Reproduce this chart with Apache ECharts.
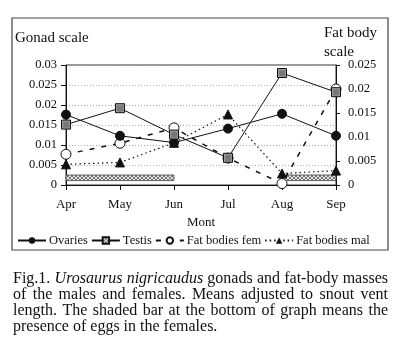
<!DOCTYPE html>
<html>
<head>
<meta charset="utf-8">
<script src="https://cdn.jsdelivr.net/npm/echarts@6/dist/echarts.min.js"></script>
<style>
html,body{margin:0;padding:0;background:#fff;}
#chart{width:406px;height:355px;}
</style>
</head>
<body>
<div id="chart"></div>
<script>
// ---- data ----
const months = ['Apr', 'May', 'Jun', 'Jul', 'Aug', 'Sep'];
const ovaries = [0.0176, 0.0123, 0.0106, 0.0141, 0.0178, 0.0123];   // gonad scale
const testis = [0.0151, 0.0192, 0.0126, 0.0068, 0.0280, 0.0232];    // gonad scale
const fatFem = [0.0064, 0.0087, 0.0119, 0.0056, 0.0003, 0.0200];    // fat body scale
const fatMal = [0.0043, 0.0047, 0.0088, 0.0147, 0.0024, 0.0030];    // fat body scale
const eggPeriods = [['Apr', 'Jun'], ['Aug', 'Sep']];
const eggBand = [0.0011, 0.0025];
const leftAxisMax = 0.03, rightAxisMax = 0.025, tickStep = 0.005;
const captionLines = [
  [['Fig.1. ', false], ['Urosaurus nigricaudus', true], [' gonads and fat-body masses', false]],
  [['of the males and females. Means adjusted to snout vent', false]],
  [['length. The shaded bar at the bottom of graph means the', false]],
  [['presence of eggs in the females.', false]]
];

const SERIF = '"Liberation Serif", "DejaVu Serif", serif';
const INK = '#111';

function hatch(bg, fg) {
  const c = document.createElement('canvas');
  c.width = 4; c.height = 4;
  const g = c.getContext('2d');
  g.fillStyle = bg; g.fillRect(0, 0, 4, 4);
  g.fillStyle = fg;
  // crosshatch: both diagonals
  g.fillRect(0, 0, 1, 1); g.fillRect(1, 1, 1, 1); g.fillRect(2, 2, 1, 1); g.fillRect(3, 3, 1, 1);
  g.fillRect(3, 0, 1, 1); g.fillRect(2, 1, 1, 1); g.fillRect(1, 2, 1, 1); g.fillRect(0, 3, 1, 1);
  return c;
}
const hatchImg = hatch('#e6e6e6', '#777');

// caption words, justified
const measure = document.createElement('canvas').getContext('2d');
function wordsOf(line) {
  const out = [];
  line.forEach(([txt, it]) => {
    txt.split(' ').forEach(w => { if (w.length) out.push({ w, it }); });
  });
  return out;
}
const capX0 = 13, capX1 = 388, capFs = 16;
const capY = [280, 296, 312, 328];
const captionGraphics = [];
captionLines.forEach((line, li) => {
  const words = wordsOf(line);
  const widths = words.map(o => {
    measure.font = (o.it ? 'italic ' : '') + capFs + 'px ' + SERIF;
    return measure.measureText(o.w).width;
  });
  measure.font = capFs + 'px ' + SERIF;
  const spaceW = measure.measureText(' ').width;
  const total = widths.reduce((a, b) => a + b, 0);
  const justify = li < captionLines.length - 1;
  const gap = justify ? (capX1 - capX0 - total) / (words.length - 1) : spaceW;
  let x = capX0;
  words.forEach((o, i) => {
    captionGraphics.push({
      type: 'text', left: x, top: capY[li] - capFs / 2 - 1,
      style: { text: o.w, font: (o.it ? 'italic ' : '') + capFs + 'px ' + SERIF, fill: INK }
    });
    x += widths[i] + gap;
  });
});

const chart = echarts.init(document.getElementById('chart'), null, { renderer: 'canvas' });

const eggData = eggPeriods.map(p => [months.indexOf(p[0]), months.indexOf(p[1]), eggBand[0], eggBand[1]]);

const option = {
  animation: false,
  backgroundColor: '#fff',
  textStyle: { fontFamily: SERIF, color: INK },
  grid: { left: 66, right: 70, top: 65, bottom: 170, show: true, borderColor: '#333', borderWidth: 1, backgroundColor: 'transparent' },
  legend: {
    left: 12, top: 229, itemGap: 3, itemWidth: 28, itemHeight: 8,
    textStyle: { fontFamily: SERIF, fontSize: 12.5, color: INK, padding: [0, 0, 0, -2] },
    data: ['Ovaries', 'Testis', 'Fat bodies fem', 'Fat bodies mal']
  },
  xAxis: {
    type: 'category', data: months, boundaryGap: false,
    name: 'Mont', nameLocation: 'middle', nameGap: 31,
    nameTextStyle: { fontFamily: SERIF, fontSize: 13, color: INK },
    axisLine: { lineStyle: { color: '#111', width: 1 } },
    axisTick: { show: true, length: 5, lineStyle: { color: '#111' } },
    axisLabel: { fontFamily: SERIF, fontSize: 13, color: INK, margin: 13 },
    splitLine: { show: false }
  },
  yAxis: [
    {
      type: 'value', min: 0, max: leftAxisMax, interval: tickStep, position: 'left',
      axisLine: { show: true, lineStyle: { color: '#111' } },
      axisTick: { show: true, length: 5, lineStyle: { color: '#111' } },
      axisLabel: { fontFamily: SERIF, fontSize: 12.5, color: INK, margin: 9 },
      splitLine: { show: true, lineStyle: { color: '#aaa', type: [1, 2], width: 1 } }
    },
    {
      type: 'value', min: 0, max: rightAxisMax, interval: tickStep, position: 'right',
      axisLine: { show: true, lineStyle: { color: '#111' } },
      axisTick: { show: true, length: 4, lineStyle: { color: '#111' } },
      axisLabel: { fontFamily: SERIF, fontSize: 12.5, color: INK, margin: 12 },
      splitLine: { show: false }
    }
  ],
  graphic: [
    { type: 'rect', shape: { x: 12, y: 18, width: 376, height: 232 }, style: { fill: 'none', stroke: '#444', lineWidth: 1.2 }, silent: true },
    { type: 'text', left: 15, top: 31, style: { text: 'Gonad scale', font: '15px ' + SERIF, fill: INK } },
    { type: 'text', left: 324, top: 26, style: { text: 'Fat body', font: '15px ' + SERIF, fill: INK } },
    { type: 'text', left: 324, top: 45, style: { text: 'scale', font: '15px ' + SERIF, fill: INK } }
  ].concat(captionGraphics),
  series: [
    {
      name: 'eggs', type: 'custom', xAxisIndex: 0, yAxisIndex: 0, z: 1,
      encode: { x: [0, 1], y: [2, 3] },
      data: eggData,
      renderItem: function (params, api) {
        const p0 = api.coord([api.value(0), api.value(3)]);
        const p1 = api.coord([api.value(1), api.value(2)]);
        return {
          type: 'rect',
          shape: { x: p0[0], y: p0[1], width: p1[0] - p0[0], height: p1[1] - p0[1] },
          style: { fill: { image: hatchImg, repeat: 'repeat' }, stroke: '#444', lineWidth: 0.8 }
        };
      }
    },
    {
      name: 'Ovaries', type: 'line', yAxisIndex: 0, data: ovaries, z: 5,
      symbol: 'circle', symbolSize: 9,
      lineStyle: { color: '#111', width: 1 },
      itemStyle: { color: '#111', borderColor: '#111' }
    },
    {
      name: 'Testis', type: 'line', yAxisIndex: 0, data: testis, z: 5,
      symbol: 'rect', symbolSize: 9,
      lineStyle: { color: '#111', width: 1 },
      itemStyle: { color: { image: hatchImg, repeat: 'repeat' }, borderColor: '#111', borderWidth: 1 }
    },
    {
      name: 'Fat bodies fem', type: 'line', yAxisIndex: 1, data: fatFem, z: 4,
      symbol: 'circle', symbolSize: 10,
      lineStyle: { color: '#111', width: 1.5, type: [5, 7] },
      itemStyle: { color: '#fff', borderColor: '#111', borderWidth: 1 }
    },
    {
      name: 'Fat bodies mal', type: 'line', yAxisIndex: 1, data: fatMal, z: 4,
      symbol: 'triangle', symbolSize: 9,
      lineStyle: { color: '#111', width: 1.2, type: [1.5, 3] },
      itemStyle: { color: '#111', borderColor: '#111' }
    }
  ]
};
chart.setOption(option);
</script>
</body>
</html>
